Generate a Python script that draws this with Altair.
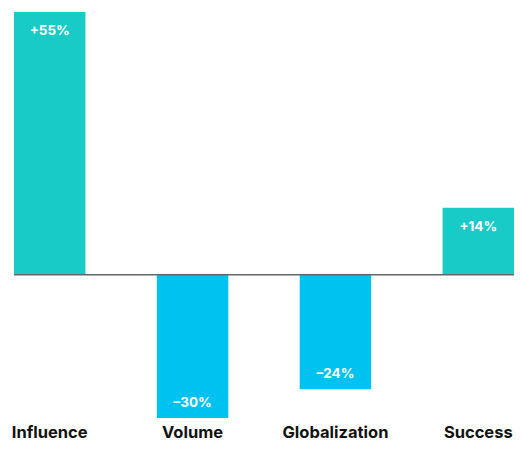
import altair as alt
import pandas as pd

categories = ["Influence", "Volume", "Globalization", "Success"]
values = [55, -30, -24, 14]
labels = ["+55%", "–30%", "–24%", "+14%"]

df = pd.DataFrame({"cat": categories, "val": values, "label": labels})
df["sign"] = ["pos" if v >= 0 else "neg" for v in values]

xenc = alt.X("cat:N", sort=categories, title=None,
             scale=alt.Scale(paddingInner=0.5, paddingOuter=0),
             axis=alt.Axis(domain=False, ticks=False, labelAngle=0, labelPadding=19,
                           labelFontSize=16.5, labelFontWeight="bold", labelColor="#111",
                           labelFont="Inter", labelBaseline="alphabetic"))
yscale = alt.Scale(domain=[-30, 55], nice=False, zero=True)

base = alt.Chart(df)

bars = base.mark_bar().encode(
    x=xenc,
    y=alt.Y("val:Q", scale=yscale, axis=None),
    color=alt.Color("sign:N", scale=alt.Scale(domain=["pos", "neg"], range=["#18CBC7", "#00C2F1"]), legend=None),
)

rule = alt.Chart(pd.DataFrame({"y": [0]})).mark_rule(color="#666", strokeWidth=1.5).encode(
    y=alt.Y("y:Q", scale=yscale)
)

pos_text = base.transform_filter("datum.val >= 0").mark_text(
    color="white", fontWeight="bold", fontSize=13.5, font="Inter", dy=19, baseline="middle"
).encode(x=xenc, y=alt.Y("val:Q", scale=yscale), text="label:N")

neg_text = base.transform_filter("datum.val < 0").mark_text(
    color="white", fontWeight="bold", fontSize=13.5, font="Inter", dy=-15.5, baseline="middle"
).encode(x=xenc, y=alt.Y("val:Q", scale=yscale), text="label:N")

chart = alt.layer(bars, rule, pos_text, neg_text).properties(
    width=500, height=406,
    autosize=alt.AutoSizeParams(type="none"),
    padding={"left": 6, "top": 4, "right": 0, "bottom": 24},
).configure_view(stroke=None)

chart.save("out.html", embed_options={"renderer": "svg", "actions": False})
